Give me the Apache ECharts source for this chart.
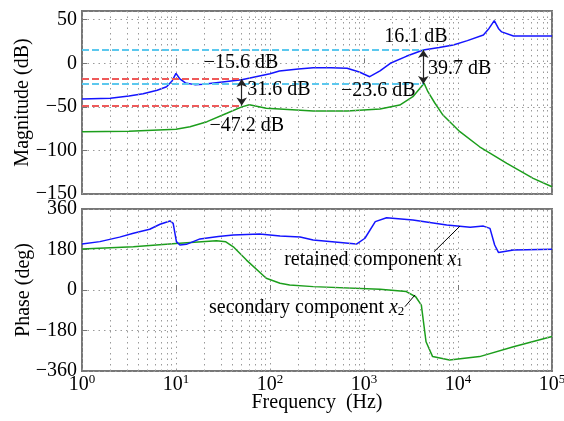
<!DOCTYPE html>
<html><head><meta charset="utf-8">
<script src="https://cdn.jsdelivr.net/npm/echarts@6/dist/echarts.min.js"></script>
<style>html,body{margin:0;padding:0;background:#fff}#c{width:564px;height:421px}</style>
</head><body><div id="c"></div>
<script>
const FONT = '"Liberation Serif","Times New Roman",serif';

// ---- magnitude (dB) ----
const blueMagF  = [1, 2, 3.16, 4.47, 6.31, 7.94, 9.12, 10, 11, 12.6, 15.8, 19.5, 28.2, 50, 100, 126, 200, 288, 447, 661, 891, 1150, 1480, 1905, 2818, 4266, 6310, 8913, 12590, 18620, 21380, 24320, 26920, 29170, 38900, 100000];
const blueMagDb = [-41, -40, -37.5, -35, -31, -27, -20, -11.5, -18, -22.5, -24.5, -24, -22, -19, -12, -8.8, -6.5, -5, -5, -5.8, -10, -15.4, -8.8, 0, 8, 15.3, 18, 21, 26, 32.5, 40, 49, 40, 36, 31.3, 31.3];
const greenMagF  = [1, 3.16, 10, 14.1, 21.4, 34.7, 50.1, 60.3, 91.2, 126, 288, 661, 1480, 2400, 3311, 3981, 4365, 4786, 5623, 6918, 10470, 16980, 33110, 63100, 100000];
const greenMagDb = [-78.5, -78, -75.8, -72.8, -67, -57.4, -50, -47.5, -51.7, -52.5, -54.8, -54.8, -52.5, -47.9, -38.3, -28, -23, -32.6, -45, -59.4, -78.5, -95.8, -114.8, -132, -141.7];

// ---- phase (deg) ----
const bluePhF  = [1, 1.55, 2.51, 3.52, 5.25, 6.76, 8.63, 9.33, 10.1, 11, 12.9, 18, 28.2, 40.7, 77.6, 128, 209, 288, 832, 1023, 1318, 1738, 3311, 7586, 13490, 18620, 21880, 24550, 26920, 38900, 100000];
const bluePhDeg = [204, 215, 235, 252, 270, 292, 307, 296, 215, 200, 203, 227, 238, 244, 249, 240, 236, 222, 204, 230, 304, 321, 311, 289, 279, 284, 274, 200, 167, 178, 181];
const greenPhF  = [1, 3.52, 10, 26.9, 33.9, 40.7, 56.2, 91.2, 128, 162, 288, 1480, 2818, 3548, 4074, 4571, 5370, 8128, 16980, 38900, 100000];
const greenPhDeg = [182, 192, 207, 219, 214, 192, 133, 52, 30, 22, 15, 3, -7, -30, -67, -230, -296, -311, -296, -252, -207];

// ---- axes ----
const freqMin = 1, freqMax = 100000;
const magMin = -150, magMax = 60, magStep = 50;
const phMin = -360, phMax = 360, phStep = 180;

// ---- reference lines and annotations ----
const cyanLevels = [15.3, -23.8], cyanEndF = 4276;
const redLevels = [-18, -48.5], redEndF = 50;
const arrowMag = [[50, -18, -48.5], [4276, 15.3, -23.8]]; // [freq, from, to]
const magLabels = [
  ['−15.6 dB', 49.1, 0.9],
  ['31.6 dB', 124.7, -30.6],
  ['−47.2 dB', 56.5, -72],
  ['16.1 dB', 3557, 30.5],
  ['39.7 dB', 10420, -5.7],
  ['−23.6 dB', 1419, -31.8]
];
const phLabels = [
  ['retained component {i|x}{s|1}', 1262, 136],
  ['secondary component {i|x}{s|2}', 245.6, -80]
];
const phLeaders = [[5557, 170, 10500, 284], [2729, -74, 3490, -22]];

const zip = (a, b) => a.map((v, i) => [v, b[i]]);
const minorF = [];
for (let d = 1; d < freqMax; d *= 10) for (let k = 2; k <= 9; k++) minorF.push(k * d);

const fmtNum = v => (v < 0 ? '−' + Math.abs(v) : '' + v);
const gridStyle = { color: '#9a9a9a', width: 1, type: [1.5, 4] };
const txt = { fontFamily: FONT, fontSize: 20, color: '#000' };
const rich = {
  i: { fontFamily: FONT, fontSize: 20, fontStyle: 'italic', color: '#000' },
  s: { fontFamily: FONT, fontSize: 13, color: '#000', verticalAlign: 'bottom', lineHeight: 13 }
};

function xAxisCfg(gi, labels) {
  return {
    type: 'log', logBase: 10, gridIndex: gi, min: freqMin, max: freqMax,
    axisLine: { show: false },
    axisTick: { show: true, inside: true, length: 5, lineStyle: { color: '#777' } },
    splitLine: { show: true, lineStyle: gridStyle },
    axisLabel: labels ? {
      show: true, margin: 2,
      formatter: v => '{b|10}{e|' + Math.round(Math.log10(v)) + '}',
      rich: {
        b: { fontFamily: FONT, fontSize: 20, color: '#000', lineHeight: 24 },
        e: { fontFamily: FONT, fontSize: 13, color: '#000', verticalAlign: 'top', lineHeight: 13 }
      }
    } : { show: false },
    name: labels ? 'Frequency  (Hz)' : '', nameLocation: 'middle', nameGap: 22, nameMoveOverlap: false,
    nameTextStyle: txt
  };
}
function yAxisCfg(gi, mn, mx, st, name, gap) {
  return {
    type: 'value', gridIndex: gi, min: mn, max: mx, interval: st,
    axisLine: { show: false },
    axisTick: { show: true, inside: true, length: 5, lineStyle: { color: '#777' } },
    splitLine: { show: true, lineStyle: gridStyle },
    axisLabel: { margin: 5, fontFamily: FONT, fontSize: 20, color: '#000',
      formatter: v => ((v - mn) % st === 0 ? fmtNum(v) : '') },
    name: name, nameLocation: 'middle', nameGap: gap, nameMoveOverlap: false, nameTextStyle: txt
  };
}

const minorLines = minorF.map(f => ({ xAxis: f, lineStyle: gridStyle }));
const dash = c => ({ color: c, width: 2, type: [7, 3] });

const magMarkLines = [].concat(
  minorLines,
  cyanLevels.map(v => [{ coord: [freqMin, v], lineStyle: dash('#5cc8ee') }, { coord: [cyanEndF, v] }]),
  redLevels.map(v => [{ coord: [freqMin, v], lineStyle: dash('#ee5a5a') }, { coord: [redEndF, v] }]),
  arrowMag.map(a => [{ coord: [a[0], a[1]], symbol: 'arrow', lineStyle: { color: '#222', width: 1.2, type: 'solid' } },
                     { coord: [a[0], a[2]], symbol: 'arrow' }])
);
const phMarkLines = [].concat(
  minorLines,
  phLeaders.map(l => [{ coord: [l[0], l[1]], lineStyle: { color: '#000', width: 1, type: 'solid' } }, { coord: [l[2], l[3]] }])
);

const lbl = (arr) => arr.map(a => ({ coord: [a[1], a[2]], name: a[0] }));

const chart = echarts.init(document.getElementById('c'), null, { renderer: 'canvas' });
chart.setOption({
  animation: false,
  backgroundColor: '#fff',
  grid: [
    { left: 82, right: 12, top: 11, height: 183, show: true, borderColor: '#777', borderWidth: 2, backgroundColor: 'transparent', outerBoundsMode: 'none', containLabel: false },
    { left: 82, right: 12, top: 209, height: 162, show: true, borderColor: '#777', borderWidth: 2, backgroundColor: 'transparent', outerBoundsMode: 'none', containLabel: false }
  ],
  xAxis: [xAxisCfg(0, false), xAxisCfg(1, true)],
  yAxis: [yAxisCfg(0, magMin, magMax, magStep, 'Magnitude (dB)', 49), yAxisCfg(1, phMin, phMax, phStep, 'Phase (deg)', 48)],
  series: [
    { type: 'line', xAxisIndex: 0, yAxisIndex: 0, data: [], silent: true,
      markLine: { silent: true, symbol: ['none', 'none'], symbolSize: 8, label: { show: false }, data: magMarkLines, animation: false },
      markPoint: { silent: true, symbol: 'circle', symbolSize: 1, itemStyle: { color: 'rgba(0,0,0,0)' },
        label: { show: true, position: 'inside', formatter: p => p.name, ...txt }, data: lbl(magLabels) } },
    { type: 'line', xAxisIndex: 1, yAxisIndex: 1, data: [], silent: true,
      markLine: { silent: true, symbol: ['none', 'none'], label: { show: false }, data: phMarkLines, animation: false },
      markPoint: { silent: true, symbol: 'circle', symbolSize: 1, itemStyle: { color: 'rgba(0,0,0,0)' },
        label: { show: true, position: 'inside', formatter: p => p.name, ...txt, rich: rich }, data: lbl(phLabels) } },
    { type: 'line', xAxisIndex: 0, yAxisIndex: 0, data: zip(greenMagF, greenMagDb), showSymbol: false, lineStyle: { color: '#1c9e1c', width: 1.5 }, z: 3 },
    { type: 'line', xAxisIndex: 0, yAxisIndex: 0, data: zip(blueMagF, blueMagDb), showSymbol: false, lineStyle: { color: '#1414ff', width: 1.5 }, z: 3 },
    { type: 'line', xAxisIndex: 1, yAxisIndex: 1, data: zip(greenPhF, greenPhDeg), showSymbol: false, lineStyle: { color: '#1c9e1c', width: 1.5 }, z: 3 },
    { type: 'line', xAxisIndex: 1, yAxisIndex: 1, data: zip(bluePhF, bluePhDeg), showSymbol: false, lineStyle: { color: '#1414ff', width: 1.5 }, z: 3 }
  ]
});
</script>
</body></html>
